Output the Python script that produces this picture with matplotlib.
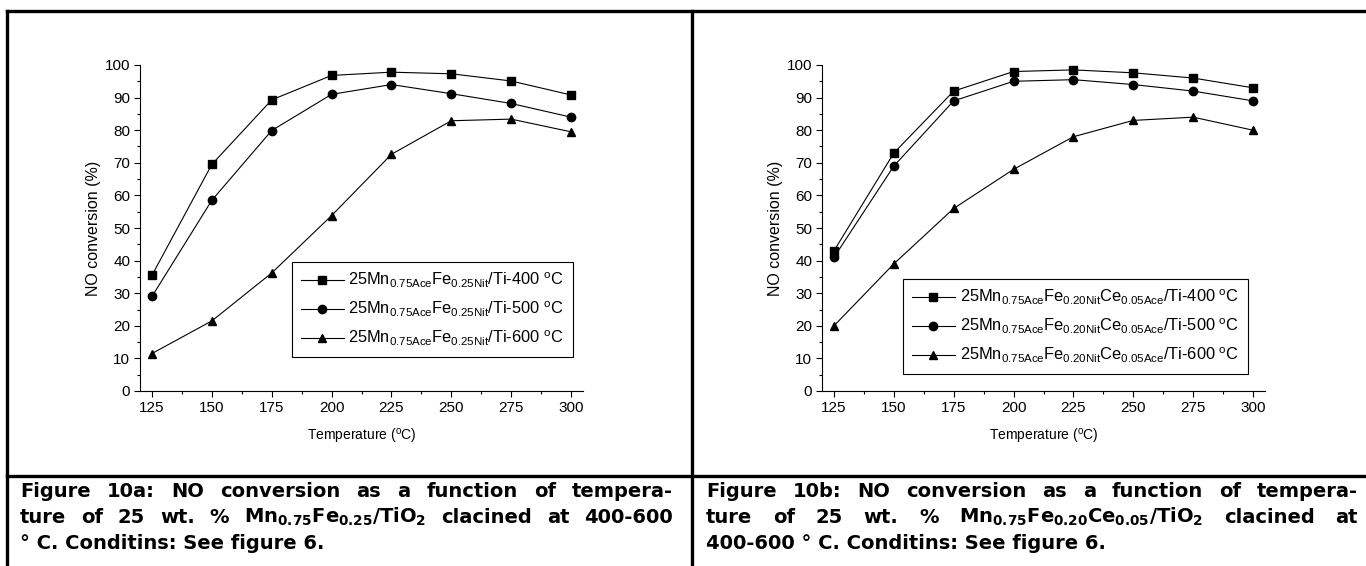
import matplotlib
matplotlib.use("Agg")
import matplotlib.pyplot as plt
from matplotlib.lines import Line2D
from matplotlib.ticker import MultipleLocator

plt.rcParams['font.family'] = ['Liberation Sans', 'DejaVu Sans']
plt.rcParams['mathtext.default'] = 'regular'

# data
temps = [125, 150, 175, 200, 225, 250, 275, 300]

a_400 = [35.5, 69.5, 89.3, 96.8, 97.8, 97.3, 95.1, 90.8]
a_500 = [29.0, 58.5, 79.9, 91.0, 94.0, 91.2, 88.2, 84.0]
a_600 = [11.5, 21.5, 36.2, 53.8, 72.6, 82.9, 83.4, 79.5]

b_400 = [43.0, 73.0, 92.0, 98.0, 98.5, 97.6, 96.0, 93.0]
b_500 = [41.0, 69.0, 89.0, 95.0, 95.5, 94.0, 92.0, 89.0]
b_600 = [20.0, 39.0, 56.0, 68.0, 78.0, 83.0, 84.0, 80.0]

labels_a = [r'25Mn$_{0.75Ace}$Fe$_{0.25Nit}$/Ti-400 $^{o}$C',
            r'25Mn$_{0.75Ace}$Fe$_{0.25Nit}$/Ti-500 $^{o}$C',
            r'25Mn$_{0.75Ace}$Fe$_{0.25Nit}$/Ti-600 $^{o}$C']
labels_b = [r'25Mn$_{0.75Ace}$Fe$_{0.20Nit}$Ce$_{0.05Ace}$/Ti-400 $^{o}$C',
            r'25Mn$_{0.75Ace}$Fe$_{0.20Nit}$Ce$_{0.05Ace}$/Ti-500 $^{o}$C',
            r'25Mn$_{0.75Ace}$Fe$_{0.20Nit}$Ce$_{0.05Ace}$/Ti-600 $^{o}$C']

caption_a = ['Figure 10a: NO conversion as a function of tempera-',
             r'ture of 25 wt. % Mn$_{0.75}$Fe$_{0.25}$/TiO$_{2}$ clacined at 400-600',
             '° C. Conditins: See figure 6.']
caption_b = ['Figure 10b: NO conversion as a function of tempera-',
             r'ture of 25 wt. % Mn$_{0.75}$Fe$_{0.20}$Ce$_{0.05}$/TiO$_{2}$ clacined at',
             '400-600 ° C. Conditins: See figure 6.']

markers = ['s', 'o', '^']

W, H = 1366, 566
fig = plt.figure(figsize=(W / 100, H / 100), dpi=100)


def draw_panel(left_px, series, labels, legend_anchor):
    ax = fig.add_axes([left_px / W, 1 - 391 / H, 443 / W, 326 / H])
    for ys, lab, mk in zip(series, labels, markers):
        ax.plot(temps, ys, color='black', lw=0.8, marker=mk, ms=6, label=lab)
    ax.set_xlim(120, 305)
    ax.set_ylim(0, 100)
    ax.xaxis.set_major_locator(MultipleLocator(25))
    ax.xaxis.set_minor_locator(MultipleLocator(12.5))
    ax.yaxis.set_major_locator(MultipleLocator(10))
    ax.yaxis.set_minor_locator(MultipleLocator(5))
    ax.spines['top'].set_visible(False)
    ax.spines['right'].set_visible(False)
    ax.tick_params(which='major', direction='out', length=4, width=0.8, labelsize=11, pad=3)
    ax.tick_params(which='minor', direction='out', length=2, width=0.8)
    ax.set_xlabel(r'Temperature ($^{o}$C)', fontsize=10, labelpad=9)
    ax.set_ylabel('NO conversion (%)', fontsize=11.5, labelpad=3)
    leg = ax.legend(loc='upper left', bbox_to_anchor=legend_anchor, borderaxespad=0,
                    fontsize=11.8, fancybox=False, edgecolor='black', framealpha=1,
                    handlelength=2.6, handletextpad=0.3, labelspacing=0.6,
                    borderpad=0.55)
    leg.get_frame().set_linewidth(0.8)
    return ax


draw_panel(140, [a_400, a_500, a_600], labels_a, (0.343, 0.396))
draw_panel(822, [b_400, b_500, b_600], labels_b, (0.183, 0.344))

# table borders
lw_border = 2.4
for xs, ys in [((7, W), (11, 11)), ((7, W), (476, 476)),
               ((7, 7), (11, H)), ((692, 692), (11, H))]:
    fig.add_artist(Line2D([x / W for x in xs], [1 - y / H for y in ys],
                          color='black', lw=lw_border, solid_capstyle='projecting'))

# captions, first two lines justified word by word across the cell
renderer = fig.canvas.get_renderer()
cap_kw = dict(fontsize=14, fontweight='bold', family='DejaVu Sans', va='baseline', ha='left')


def caption_line(text, x0, x1, y, justify):
    if not justify:
        fig.text(x0 / W, 1 - y / H, text, **cap_kw)
        return
    words = text.split(' ')
    objs = [fig.text(0, 1 - y / H, w, **cap_kw) for w in words]
    widths = [o.get_window_extent(renderer).width for o in objs]
    gap = (x1 - x0 - sum(widths)) / (len(words) - 1)
    x = x0
    for o, w in zip(objs, widths):
        o.set_x(x / W)
        x += w + gap


baselines = [497, 523, 549]
for i, (line, y) in enumerate(zip(caption_a, baselines)):
    caption_line(line, 20, 673, y, i < 2)
for i, (line, y) in enumerate(zip(caption_b, baselines)):
    caption_line(line, 706, 1358, y, i < 2)

fig.savefig('out.png', dpi=100)
